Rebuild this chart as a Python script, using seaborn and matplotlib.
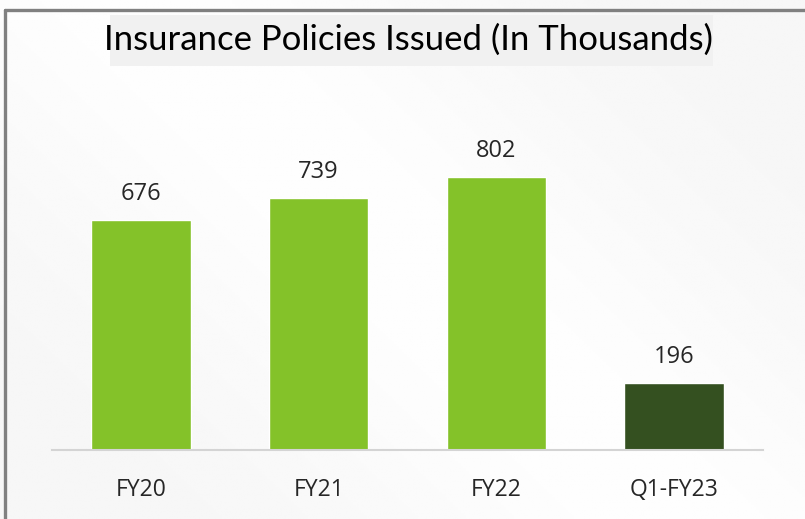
import numpy as np
import pandas as pd
import seaborn as sns
import matplotlib.pyplot as plt
from matplotlib.patches import Rectangle

periods = ['FY20', 'FY21', 'FY22', 'Q1-FY23']
policies = [676, 739, 802, 196]
bar_colors = ['#84c229', '#84c229', '#84c229', '#345020']

sns.set_style('white')
plt.rcParams['font.family'] = ['Open Sans', 'DejaVu Sans']

df = pd.DataFrame({'period': periods, 'policies': policies})

fig = plt.figure(figsize=(8.05, 5.19), dpi=100)

# soft grey background with a lighter diagonal band
bg = fig.add_axes([0, 0, 1, 1], zorder=-10)
yy, xx = np.mgrid[0:1:200j, 0:1:300j]
band = np.exp(-((xx * 0.9 + (1 - yy) * 0.6 - 0.75) / 0.35) ** 2)
shade = 0.965 + 0.03 * band
bg.imshow(shade, cmap='gray', vmin=0, vmax=1, aspect='auto', extent=[0, 1, 0, 1])
bg.plot([0.006, 0.006], [0, 0.981], color='#808080', lw=2.4)
bg.plot([0.006, 1], [0.981, 0.981], color='#808080', lw=2.4)
bg.set_xlim(0, 1)
bg.set_ylim(0, 1)
bg.axis('off')

ax = fig.add_axes([0.0646, 0.133, 0.8834, 0.62])
ax.patch.set_alpha(0)
sns.barplot(data=df, x='period', y='policies', hue='period', palette=bar_colors,
            width=0.56, legend=False, ax=ax, saturation=1)

for i, v in enumerate(policies):
    ax.text(i, v + 42, str(v), ha='center', va='bottom', fontsize=17, color='#262626')

ax.set_xlim(-0.5, 3.5)
ax.set_ylim(0, 802 / 273 * 0.62 * 519)
ax.set_xlabel('')
ax.set_ylabel('')
ax.set_yticks([])
ax.tick_params(axis='x', length=0, pad=20, labelsize=16.5, labelcolor='#262626')
for s in ['top', 'right', 'left']:
    ax.spines[s].set_visible(False)
ax.spines['bottom'].set_color('#d4d4d4')
ax.spines['bottom'].set_linewidth(1.5)

fig.patches.append(Rectangle((0.137, 0.873), 0.749, 0.099, transform=fig.transFigure,
                             facecolor='#f1f1f1', edgecolor='none', zorder=-5))
fig.text(0.508, 0.924, 'Insurance Policies Issued (In Thousands)', ha='center', va='center',
         fontsize=25, color='black', family=['Lato', 'DejaVu Sans'])

fig.savefig('out.png', dpi=100)
